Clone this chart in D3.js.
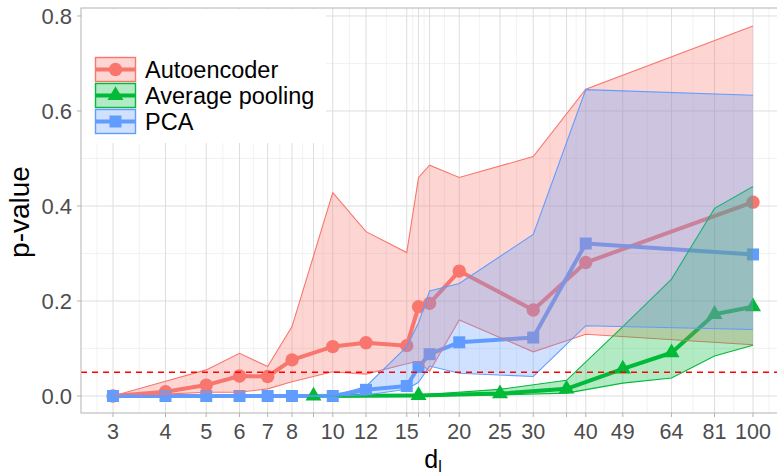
<!DOCTYPE html>
<html>
<head>
<meta charset="utf-8">
<script src="https://cdn.jsdelivr.net/npm/d3@7"></script>
<style>
  body { margin: 0; background: #fff; }
  text { font-family: "Liberation Sans", Arial, sans-serif; }
</style>
</head>
<body>
<svg width="777" height="476"></svg>
<script>
// Autoencoder
const aeX    = [3, 4, 5, 6, 7, 8, 10, 12, 15, 16, 17, 20, 30, 40, 100];
const aeMean = [0, 0.009, 0.023, 0.042, 0.041, 0.076, 0.104, 0.112, 0.106, 0.188, 0.195, 0.263, 0.181, 0.281, 0.408];
const aeLow  = [0, 0.004, 0.008, 0.008, 0.015, 0.030, 0.051, 0.046, 0.068, 0.073, 0.052, 0.160, 0.093, 0.130, 0.108];
const aeHigh = [0, 0.031, 0.055, 0.090, 0.062, 0.146, 0.428, 0.346, 0.302, 0.460, 0.486, 0.460, 0.504, 0.646, 0.779];

// Average pooling
const poolX    = [9, 16, 25, 36, 49, 64, 81, 100];
const poolMean = [0, 0.001, 0.005, 0.015, 0.057, 0.091, 0.172, 0.188];
const poolLow  = [0, 0, 0.002, 0.006, 0.027, 0.038, 0.084, 0.107];
const poolHigh = [0, 0.002, 0.014, 0.033, 0.146, 0.246, 0.395, 0.441];

// PCA
const pcaX    = [3, 4, 5, 6, 7, 8, 10, 12, 15, 16, 17, 20, 30, 40, 100];
const pcaMean = [0, 0, 0, 0, 0, 0, 0, 0.013, 0.021, 0.061, 0.088, 0.113, 0.123, 0.321, 0.298];
const pcaLow  = [0, 0, 0, 0, 0, 0, 0, 0.002, 0.014, 0.029, 0.063, 0.048, 0.041, 0.148, 0.140];
const pcaHigh = [0, 0, 0, 0, 0, 0, 0, 0.020, 0.104, 0.154, 0.221, 0.237, 0.340, 0.645, 0.633];

const seriesNames = ['Autoencoder', 'Average pooling', 'PCA'];
const xBreaks = [3, 4, 5, 6, 7, 8, 9, 10, 12, 15, 16, 17, 20, 25, 30, 36, 40, 49, 64, 81, 100];
const xLabels = ['3', '4', '5', '6', '7', '8', '', '10', '12', '15', '', '', '20', '25', '30', '', '40', '49', '64', '81', '100'];
const yBreaks = [0, 0.2, 0.4, 0.6, 0.8];
const yLabels = ['0.0', '0.2', '0.4', '0.6', '0.8'];
const threshold = 0.05;

const colors = ['#F8766D', '#00BA38', '#619CFF'];
const shapes = [d3.symbolCircle, d3.symbolTriangle, d3.symbolSquare];
const shapeSizes = [140, 110, 144];

const zip = (xs, m, lo, hi) => xs.map((x, i) => ({x: x, mean: m[i], low: lo[i], high: hi[i]}));
const series = [
  zip(aeX, aeMean, aeLow, aeHigh),
  zip(poolX, poolMean, poolLow, poolHigh),
  zip(pcaX, pcaMean, pcaLow, pcaHigh)
];

const svg = d3.select('svg'),
      panel = {left: 81, right: 785, top: 8, bottom: 413};

// log axis with ggplot-like 5% expansion
const ext = Math.pow(100 / 3, 0.05);
const x = d3.scaleLog()
  .domain([3 / ext, 100 * ext])
  .range([panel.left, panel.right]);

const y = d3.scaleLinear()
  .domain([-0.0358, 0.8168])
  .range([panel.bottom, panel.top]);

// grid
const grid = svg.append('g');
const xMinor = [x.domain()[0]].concat(xBreaks, [x.domain()[1]]);
for (let i = 0; i < xMinor.length - 1; i++) {
  const m = Math.sqrt(xMinor[i] * xMinor[i + 1]);
  grid.append('line')
    .attr('x1', x(m)).attr('x2', x(m))
    .attr('y1', panel.top).attr('y2', panel.bottom)
    .attr('stroke', '#EFEFEF').attr('stroke-width', 0.8);
}
[0.1, 0.3, 0.5, 0.7].forEach(v => {
  grid.append('line')
    .attr('x1', panel.left).attr('x2', panel.right)
    .attr('y1', y(v)).attr('y2', y(v))
    .attr('stroke', '#EFEFEF').attr('stroke-width', 0.8);
});
xBreaks.forEach(b => {
  grid.append('line')
    .attr('x1', x(b)).attr('x2', x(b))
    .attr('y1', panel.top).attr('y2', panel.bottom)
    .attr('stroke', '#DEDEDE').attr('stroke-width', 1);
});
yBreaks.forEach(b => {
  grid.append('line')
    .attr('x1', panel.left).attr('x2', panel.right)
    .attr('y1', y(b)).attr('y2', y(b))
    .attr('stroke', '#DEDEDE').attr('stroke-width', 1);
});

const line = d3.line()
  .x(d => x(d.x))
  .y(d => y(d.mean));

// mean lines, then points
series.forEach((s, i) => {
  svg.append('path')
    .datum(s)
    .attr('fill', 'none')
    .attr('stroke', colors[i])
    .attr('stroke-width', 4)
    .attr('stroke-linejoin', 'round')
    .attr('d', line);
});
series.forEach((s, i) => {
  svg.append('g').selectAll('path')
    .data(s)
    .enter().append('path')
      .attr('transform', d => `translate(${x(d.x)}, ${y(d.mean)})`)
      .attr('d', d3.symbol().type(shapes[i]).size(shapeSizes[i]))
      .attr('fill', colors[i]);
});

// ribbons sit on top of the lines
const area = d3.area()
  .x(d => x(d.x))
  .y0(d => y(d.low))
  .y1(d => y(d.high));
const upper = d3.line().x(d => x(d.x)).y(d => y(d.high));
const lower = d3.line().x(d => x(d.x)).y(d => y(d.low));

series.forEach((s, i) => {
  const g = svg.append('g');
  g.append('path').datum(s)
    .attr('fill', colors[i]).attr('fill-opacity', 0.3)
    .attr('d', area);
  [upper, lower].forEach(l => {
    g.append('path').datum(s)
      .attr('fill', 'none')
      .attr('stroke', colors[i])
      .attr('stroke-width', 1.1)
      .attr('d', l);
  });
});

// significance line
svg.append('line')
  .attr('x1', panel.left).attr('x2', panel.right)
  .attr('y1', y(threshold)).attr('y2', y(threshold))
  .attr('stroke', '#FF0000')
  .attr('stroke-width', 1.4)
  .attr('stroke-dasharray', '6,5');

// panel border
svg.append('rect')
  .attr('x', panel.left).attr('y', panel.top)
  .attr('width', panel.right - panel.left).attr('height', panel.bottom - panel.top)
  .attr('fill', 'none').attr('stroke', '#B3B3B3').attr('stroke-width', 1);

// legend
const legend = svg.append('g');
legend.append('rect')
  .attr('x', panel.left + 1).attr('y', panel.top + 1)
  .attr('width', 244).attr('height', 134)
  .attr('fill', '#fff');

seriesNames.forEach((name, i) => {
  const ky = 57 + i * 26;
  const k = legend.append('g').attr('transform', `translate(95, ${ky})`);
  k.append('rect')
    .attr('x', 0.5).attr('y', 0.5).attr('width', 40).attr('height', 24)
    .attr('fill', colors[i]).attr('fill-opacity', 0.3)
    .attr('stroke', colors[i]).attr('stroke-width', 1.4);
  k.append('line')
    .attr('x1', 1).attr('x2', 40).attr('y1', 12.5).attr('y2', 12.5)
    .attr('stroke', colors[i]).attr('stroke-width', 4);
  k.append('path')
    .attr('transform', 'translate(20.5, 12.5)')
    .attr('d', d3.symbol().type(shapes[i]).size(shapeSizes[i]))
    .attr('fill', colors[i]);
  legend.append('text')
    .attr('x', 145).attr('y', ky + 12.5)
    .attr('dy', '0.35em')
    .attr('font-size', 23.5)
    .attr('fill', '#000')
    .text(name);
});

// axes
const axes = svg.append('g');
xBreaks.forEach((b, i) => {
  axes.append('line')
    .attr('x1', x(b)).attr('x2', x(b))
    .attr('y1', panel.bottom).attr('y2', panel.bottom + 4)
    .attr('stroke', '#B3B3B3');
  axes.append('text')
    .attr('x', x(b)).attr('y', 439)
    .attr('text-anchor', 'middle')
    .attr('font-size', 21.5)
    .attr('fill', '#4D4D4D')
    .text(xLabels[i]);
});
yBreaks.forEach((b, i) => {
  axes.append('line')
    .attr('x1', panel.left - 4).attr('x2', panel.left)
    .attr('y1', y(b)).attr('y2', y(b))
    .attr('stroke', '#B3B3B3');
  axes.append('text')
    .attr('x', 72).attr('y', y(b))
    .attr('dy', '0.35em')
    .attr('text-anchor', 'end')
    .attr('font-size', 22)
    .attr('fill', '#4D4D4D')
    .text(yLabels[i]);
});

// axis titles
const xt = svg.append('text')
  .attr('x', (panel.left + panel.right) / 2).attr('y', 468)
  .attr('text-anchor', 'middle')
  .attr('font-size', 25)
  .attr('fill', '#000');
xt.append('tspan').text('d');
xt.append('tspan').attr('font-size', 16).attr('dy', 4).text('l');

svg.append('text')
  .attr('transform', 'translate(29, 212) rotate(-90)')
  .attr('text-anchor', 'middle')
  .attr('font-size', 28)
  .attr('fill', '#000')
  .text('p-value');
</script>
</body>
</html>
